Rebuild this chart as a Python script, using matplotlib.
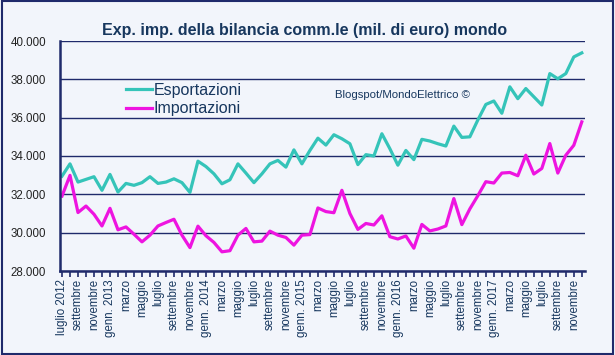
import sys

import numpy as np
import matplotlib

matplotlib.use("Agg")
import matplotlib.pyplot as plt
from matplotlib.patches import Rectangle
from matplotlib.ticker import FuncFormatter

# Monthly values, luglio 2012 - dicembre 2017 (mil. di euro)
MONTHS = ["gen", "feb", "marzo", "apr", "maggio", "giu",
          "luglio", "ago", "settembre", "ott", "novembre", "dic"]

esportazioni = [
    32950, 33590, 32640, 32780, 32920, 32210, 33040, 32120, 32570, 32470,
    32610, 32920, 32570, 32640, 32810, 32610, 32100, 33730, 33450, 33070,
    32550, 32760, 33590, 33110, 32610, 33070, 33590, 33770, 33420, 34320,
    33590, 34290, 34930, 34570, 35110, 34900, 34640, 33550, 34070, 34000,
    35160, 34380, 33520, 34290, 33810, 34870, 34780, 34640, 34520, 35560,
    34970, 35000, 35880, 36690, 36870, 36230, 37610, 36990, 37520, 37090,
    36660, 38300, 38030, 38300, 39170, 39380,
]

importazioni = [
    31910, 32990, 31050, 31390, 30960, 30350, 31270, 30150, 30300, 29920,
    29520, 29870, 30350, 30530, 30700, 29870, 29220, 30340, 29840, 29490,
    29000, 29060, 29870, 30220, 29520, 29560, 30080, 29870, 29750, 29350,
    29870, 29900, 31290, 31100, 31040, 32210, 31000, 30170, 30480, 30400,
    30880, 29790, 29670, 29830, 29190, 30430, 30090, 30190, 30350, 31780,
    30420, 31240, 31930, 32660, 32590, 33110, 33140, 32970, 34040, 33060,
    33350, 34650, 33110, 34040, 34560, 35780,
]

START_YEAR = 2012
START_MONTH = 7  # luglio

NAVY = "#1f2a6b"
TEXT = "#17375e"
BG = "#f2f5fb"


def month_label(i):
    m = (START_MONTH - 1 + i) % 12
    y = START_YEAR + (START_MONTH - 1 + i) // 12
    if i == 0:
        return f"{MONTHS[m]} {y}"
    if m == 0:
        return f"genn. {y}"
    return MONTHS[m]


def main() -> int:
    plt.rcParams["font.family"] = ["Liberation Sans", "DejaVu Sans"]

    fig = plt.figure(figsize=(6.15, 3.55), dpi=100, facecolor=BG)
    ax = fig.add_axes([60 / 615, 1 - 271 / 355, 525 / 615, 230 / 355])
    ax.set_facecolor(BG)

    x = np.arange(len(esportazioni))
    ax.plot(x, esportazioni, color="#35c4b9", lw=2.3, label="Esportazioni")
    ax.plot(x, importazioni, color="#ee14e0", lw=2.3, label="Importazioni")

    ax.set_ylim(28000, 40000)
    ax.set_xlim(-0.25, len(x) - 0.6)
    ax.set_yticks(np.arange(28000, 40001, 2000))
    ax.yaxis.set_major_formatter(
        FuncFormatter(lambda v, _: f"{int(v):,}".replace(",", "."))
    )
    ax.grid(axis="y", color=NAVY, lw=1.0)
    ax.set_axisbelow(True)

    major = x[::2]
    ax.set_xticks(major)
    ax.set_xticklabels([month_label(i) for i in major], rotation=90,
                       fontsize=8.3, color=TEXT)
    ax.set_xticks(x, minor=True)
    ax.tick_params(axis="x", which="both", length=4, width=1.2, color=NAVY,
                   direction="out", pad=2)
    ax.tick_params(axis="y", length=0, labelsize=8.3, colors="#222222", pad=10)

    for side in ("top", "right"):
        ax.spines[side].set_visible(False)
    for side in ("left", "bottom"):
        ax.spines[side].set_color(NAVY)
        ax.spines[side].set_linewidth(1.8)

    fig.text(305 / 615, 1 - 30 / 355,
             "Exp. imp. della bilancia comm.le (mil. di euro) mondo",
             ha="center", va="center", fontsize=11.5, fontweight="bold",
             color=TEXT)
    fig.text(335 / 615, 1 - 95 / 355, "Blogspot/MondoElettrico ©",
             ha="left", va="center", fontsize=8.2, color=TEXT)

    fig.legend(loc="upper left", bbox_to_anchor=(126 / 615, 1 - 83 / 355),
               frameon=False, fontsize=11.5, handlelength=1.6,
               handletextpad=0.15, labelspacing=0.2, borderpad=0,
               borderaxespad=0, labelcolor=TEXT)

    fig.patches.append(Rectangle((0.003, 0.004), 0.994, 0.992,
                                 transform=fig.transFigure, fill=False,
                                 edgecolor=NAVY, lw=1.5))

    fig.savefig("out.png", dpi=100, facecolor=BG)
    return 0


if __name__ == "__main__":
    sys.exit(main())
